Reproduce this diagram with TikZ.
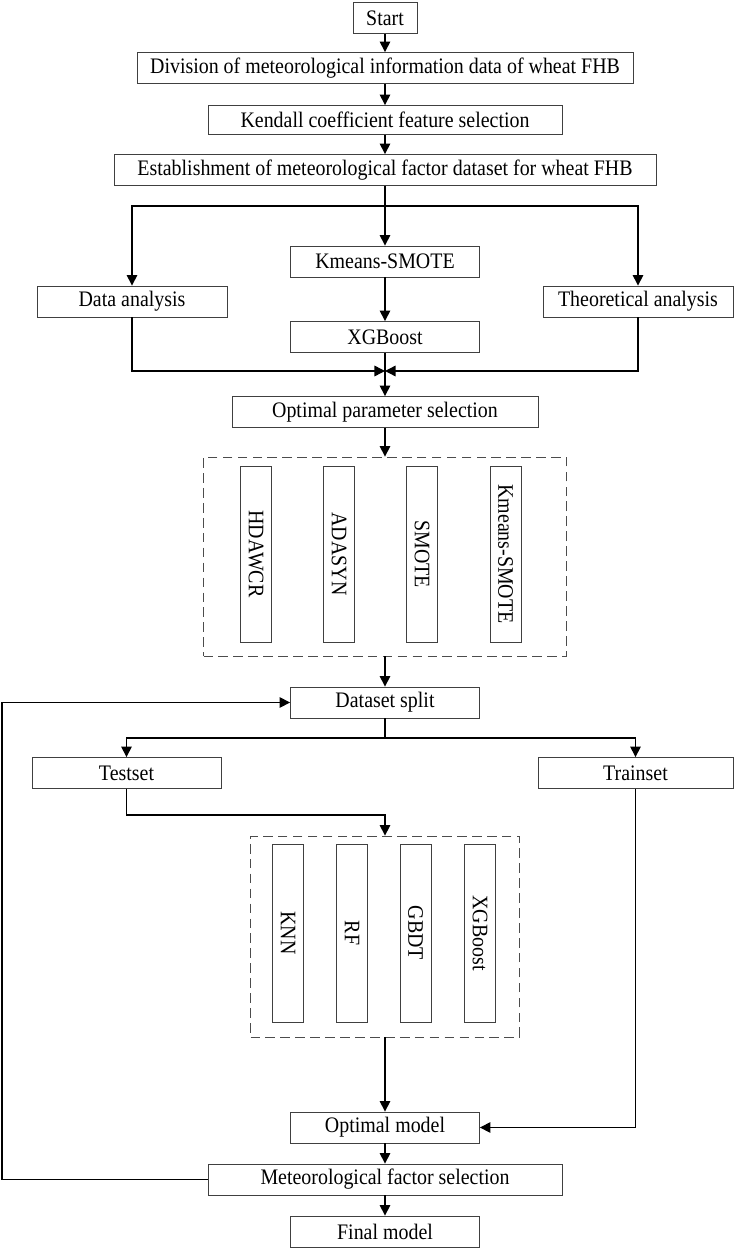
\documentclass[tikz,border=0pt]{standalone}
\usepackage{fontspec}
\setmainfont[FakeStretch=0.9]{Liberation Serif}
\usepackage{tikz}
\usetikzlibrary{arrows.meta,positioning,calc}

\begin{document}
\begin{tikzpicture}[
      x=0.02cm,y=-0.02cm,
      box/.style={draw=black!75,line width=0.5pt,minimum height=0.62cm,inner sep=0pt,font=\fontsize{12.6}{14}\selectfont},
      vbox/.style={box,minimum width=0.96cm,rotate=-90},
      dbox/.style={draw=black!70,line width=0.5pt,dash pattern=on 5.5pt off 3pt,inner sep=0pt},
      arr/.style={line width=0.8pt,-{Triangle[width=6pt,length=6pt]}},
      ln/.style={line width=0.8pt}
    ]
      \useasboundingbox (0,0) rectangle (734,1253);
      % Preparation of the dataset
      \node[box,minimum width=1.28cm] (start) at (385,18) {Start};
      \node[box,minimum width=9.92cm] (div) at (385,68) {Division of meteorological information data of wheat FHB};
      \node[box,minimum width=7.08cm,minimum height=0.58cm] (kendall) at (385,120) {Kendall coefficient feature selection};
      \node[box,minimum width=10.84cm] (estab) at (385,170) {Establishment of meteorological factor dataset for wheat FHB};
      % Three branches
      \node[box,minimum width=3.78cm] (kms) at (385,261.5) {Kmeans-SMOTE};
      \node[box,minimum width=3.8cm] (data) at (132,301.5) {Data analysis};
      \node[box,minimum width=3.8cm] (theo) at (638,301.5) {Theoretical analysis};
      \node[box,minimum width=3.78cm] (xgb) at (385,337) {XGBoost};
      \node[box,minimum width=6.12cm] (optpar) at (385,412) {Optimal parameter selection};
      % Sampling methods
      \node[dbox,minimum width=7.26cm,minimum height=3.98cm] (samp) at (385,556.5) {};
      \node[vbox,minimum width=3.52cm] (hd) at (256,554) {HDAWCR};
      \node[vbox,minimum width=3.52cm] (ad) at (339,554) {ADASYN};
      \node[vbox,minimum width=3.52cm] (sm) at (422,554) {SMOTE};
      \node[vbox,minimum width=3.52cm] (km) at (505.5,554) {Kmeans-SMOTE};
      % Split and training
      \node[box,minimum width=3.78cm] (split) at (385,702.5) {Dataset split};
      \node[box,minimum width=3.78cm] (test) at (126.5,773) {Testset};
      \node[box,minimum width=3.9cm] (train) at (635.5,773) {Trainset};
      % Classifiers
      \node[dbox,minimum width=5.38cm,minimum height=4.02cm] (clf) at (385,936.5) {};
      \node[vbox,minimum width=3.56cm] (knn) at (288,933) {KNN};
      \node[vbox,minimum width=3.56cm] (rf) at (352,933) {RF};
      \node[vbox,minimum width=3.56cm] (gbdt) at (415.5,933) {GBDT};
      \node[vbox,minimum width=3.56cm] (xgbc) at (480,933) {XGBoost};
      \node[box,minimum width=3.78cm] (optmod) at (385,1127.5) {Optimal model};
      \node[box,minimum width=7.08cm] (metsel) at (385,1179.5) {Meteorological factor selection};
      \node[box,minimum width=3.78cm] (final) at (385,1231.5) {Final model};
      % Junctions
      \coordinate (fork1) at (385,206);
      \coordinate (merge) at (385,371);
      \coordinate (fork2) at (385,738);
      \coordinate (tbend) at (385,815);
      \coordinate (back) at (2,1179.5);
      % Connectors
      \draw[arr] (start) -- (div);
      \draw[arr] (div) -- (kendall);
      \draw[arr] (kendall) -- (estab);
      \draw[ln] (estab.south) -- (fork1);
      \draw[arr] (fork1) -- (kms);
      \draw[arr] (fork1) -| (data.north);
      \draw[arr] (fork1) -| (theo.north);
      \draw[arr] (kms) -- (xgb);
      \draw[arr] (data.south) |- (merge);
      \draw[arr] (theo.south) |- (merge);
      \draw[arr] (xgb) -- (optpar);
      \draw[arr] (optpar) -- (samp);
      \draw[arr] (samp) -- (split);
      \draw[ln] (split.south) -- (fork2);
      \draw[arr] (fork2) -| (test.north);
      \draw[arr] (fork2) -| (train.north);
      \draw[arr] (test.south) |- (tbend) -- (clf.north);
      \draw[arr] (clf) -- (optmod);
      \draw[arr] (train.south) |- (optmod.east);
      \draw[arr] (optmod) -- (metsel);
      \draw[arr] (metsel) -- (final);
      \draw[arr] (metsel.west) -- (back) |- (split.west);
    \end{tikzpicture}
\end{document}
